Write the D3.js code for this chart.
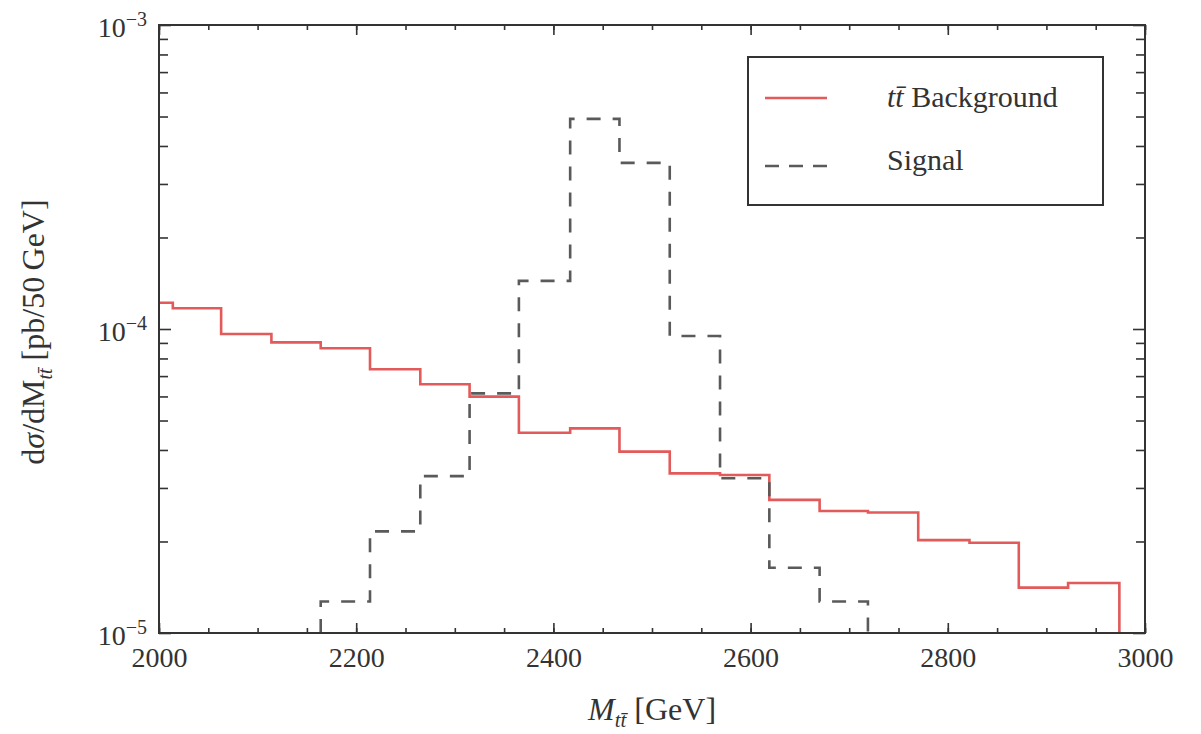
<!DOCTYPE html>
<html>
<head>
<meta charset="utf-8">
<script src="https://cdn.jsdelivr.net/npm/d3@7"></script>
<style>
  body { margin: 0; background: #fff; }
  svg { display: block; }
</style>
</head>
<body>
<div id="chart"></div>
<script>
// bin edges (GeV) and heights (pb/50 GeV)
var bgEdges = [2000, 2014, 2063, 2114, 2164, 2214, 2265, 2315, 2365, 2417, 2467,
               2518, 2569, 2619, 2670, 2719, 2770, 2822, 2872, 2922, 2974];
var bgValues = [1.22e-4, 1.17e-4, 0.963e-4, 0.904e-4, 0.864e-4, 0.737e-4, 0.658e-4,
                0.599e-4, 0.456e-4, 0.471e-4, 0.395e-4, 0.335e-4, 0.331e-4, 0.274e-4,
                0.252e-4, 0.249e-4, 0.202e-4, 0.198e-4, 0.141e-4, 0.146e-4];

var sigEdges = [2164, 2214, 2265, 2315, 2365, 2417, 2467, 2518, 2569, 2619, 2670, 2719];
var sigValues = [1.27e-5, 2.16e-5, 3.28e-5, 6.14e-5, 1.44e-4, 4.91e-4, 3.52e-4,
                 0.948e-4, 3.23e-5, 1.64e-5, 1.27e-5];

var xMajorTicks = [2000, 2200, 2400, 2600, 2800, 3000];
var xMinorTicks = d3.range(2000, 3001, 50);
var yDecades = [-5, -4, -3];

(function() {

    var width = 1201;
    var height = 734;
    var pLeft = 159, pRight = 1145, pTop = 25, pBottom = 633;
    var serif = "'Liberation Serif', 'DejaVu Serif', 'Times New Roman', serif";
    var ink = "#333";

    var x = d3.scaleLinear().domain([2000, 3000]).range([pLeft, pRight]);
    var y = d3.scaleLog().domain([1e-5, 1e-3]).range([pBottom, pTop]);

    var yMinorTicks = [];
    [-5, -4].forEach(function(p) {
        d3.range(2, 10).forEach(function(m) { yMinorTicks.push(m * Math.pow(10, p)); });
    });
    var yMajorTicks = yDecades.map(function(p) { return Math.pow(10, p); });

    var svg = d3.select("#chart").append("svg")
        .attr("width", width)
        .attr("height", height);

    svg.append("rect")
        .attr("width", width)
        .attr("height", height)
        .style("fill", "#fff");

    // step histograms
    function stepPoints(edges, vals, fromFloor) {
        var pts = [];
        if (fromFloor) pts.push([edges[0], 1e-5]);
        vals.forEach(function(v, i) { pts.push([edges[i], v]); });
        pts.push([edges[edges.length - 1], 1e-5]);
        return pts;
    }

    var line = d3.line()
        .x(function(d) { return x(d[0]); })
        .y(function(d) { return y(d[1]); })
        .curve(d3.curveStepAfter);

    svg.append("path")
        .attr("d", line(stepPoints(bgEdges, bgValues, false)))
        .style("fill", "none")
        .style("stroke", "#e25a5a")
        .style("stroke-width", 2.6);

    svg.append("path")
        .attr("d", line(stepPoints(sigEdges, sigValues, true)))
        .style("fill", "none")
        .style("stroke", "#5a5a5a")
        .style("stroke-width", 2.6)
        .style("stroke-dasharray", "14,12");

    // axes: ticks point inward on all four sides
    function styleAxis(g) {
        g.select(".domain").remove();
        g.selectAll("line").style("stroke", ink).style("stroke-width", 1.6);
        g.attr("font-family", serif).attr("font-size", 28).attr("fill", ink);
        g.selectAll("text").style("fill", ink);
    }

    svg.append("g")
        .attr("transform", "translate(0," + pBottom + ")")
        .call(d3.axisBottom(x).tickValues(xMinorTicks).tickSize(-5).tickFormat(""))
        .call(styleAxis);
    svg.append("g")
        .attr("transform", "translate(0," + pBottom + ")")
        .call(d3.axisBottom(x).tickValues(xMajorTicks).tickSize(-10).tickPadding(14)
            .tickFormat(d3.format("d")))
        .call(styleAxis);
    svg.append("g")
        .attr("transform", "translate(0," + pTop + ")")
        .call(d3.axisTop(x).tickValues(xMinorTicks).tickSize(-5).tickFormat(""))
        .call(styleAxis);
    svg.append("g")
        .attr("transform", "translate(0," + pTop + ")")
        .call(d3.axisTop(x).tickValues(xMajorTicks).tickSize(-10).tickFormat(""))
        .call(styleAxis);

    svg.append("g")
        .attr("transform", "translate(" + pLeft + ",0)")
        .call(d3.axisLeft(y).tickValues(yMinorTicks).tickSize(-9).tickFormat(""))
        .call(styleAxis);
    svg.append("g")
        .attr("transform", "translate(" + pLeft + ",0)")
        .call(d3.axisLeft(y).tickValues(yMajorTicks).tickSize(-12).tickFormat(""))
        .call(styleAxis);
    svg.append("g")
        .attr("transform", "translate(" + pRight + ",0)")
        .call(d3.axisRight(y).tickValues(yMinorTicks).tickSize(-9).tickFormat(""))
        .call(styleAxis);
    svg.append("g")
        .attr("transform", "translate(" + pRight + ",0)")
        .call(d3.axisRight(y).tickValues(yMajorTicks).tickSize(-12).tickFormat(""))
        .call(styleAxis);

    // y tick labels 10^p
    var ylab = svg.selectAll(".ylab")
        .data(yDecades)
        .enter()
        .append("text")
        .attr("class", "ylab")
        .attr("x", 147)
        .attr("y", function(p) { return y(Math.pow(10, p)) + 12; })
        .attr("text-anchor", "end")
        .style("font-family", serif)
        .style("fill", ink);
    ylab.append("tspan").style("font-size", "28px").text("10");
    ylab.append("tspan").attr("dy", -11).style("font-size", "20px")
        .text(function(p) { return "\u2212" + Math.abs(p); });

    // frame
    svg.append("rect")
        .attr("x", pLeft)
        .attr("y", pTop)
        .attr("width", pRight - pLeft)
        .attr("height", pBottom - pTop)
        .style("fill", "none")
        .style("stroke", ink)
        .style("stroke-width", 2);

    // axis titles
    var xt = svg.append("text")
        .attr("x", 652)
        .attr("y", 720)
        .attr("text-anchor", "middle")
        .style("font-family", serif)
        .style("font-size", "32px")
        .style("fill", ink);
    xt.append("tspan").style("font-style", "italic").text("M");
    xt.append("tspan").attr("dy", 7).style("font-style", "italic").style("font-size", "21px").text("tt\u0304");
    xt.append("tspan").attr("dy", -7).text(" [GeV]");

    var yt = svg.append("text")
        .attr("transform", "translate(44,332) rotate(-90)")
        .attr("text-anchor", "middle")
        .style("font-family", serif)
        .style("font-size", "32px")
        .style("fill", ink);
    yt.append("tspan").text("d");
    yt.append("tspan").style("font-style", "italic").text("\u03c3");
    yt.append("tspan").text("/dM");
    yt.append("tspan").attr("dy", 8).style("font-style", "italic").style("font-size", "20px").text("tt\u0304");
    yt.append("tspan").attr("dy", -8).text(" [pb/50\u2009GeV]");

    // legend
    var legend = svg.append("g");
    legend.append("rect")
        .attr("x", 748)
        .attr("y", 57)
        .attr("width", 355)
        .attr("height", 148)
        .style("fill", "#fff")
        .style("stroke", ink)
        .style("stroke-width", 2);
    legend.append("line")
        .attr("x1", 765).attr("x2", 827).attr("y1", 98).attr("y2", 98)
        .style("stroke", "#e25a5a").style("stroke-width", 2.6);
    legend.append("line")
        .attr("x1", 765).attr("x2", 830).attr("y1", 166).attr("y2", 166)
        .style("stroke", "#5a5a5a").style("stroke-width", 2.6)
        .style("stroke-dasharray", "14,10");

    var l1 = legend.append("text")
        .attr("x", 887).attr("y", 107)
        .style("font-family", serif).style("font-size", "30px").style("fill", ink);
    l1.append("tspan").style("font-style", "italic").text("tt\u0304");
    l1.append("tspan").text(" Background");

    legend.append("text")
        .attr("x", 887).attr("y", 170)
        .style("font-family", serif).style("font-size", "30px").style("fill", ink)
        .text("Signal");

})();
</script>
</body>
</html>
